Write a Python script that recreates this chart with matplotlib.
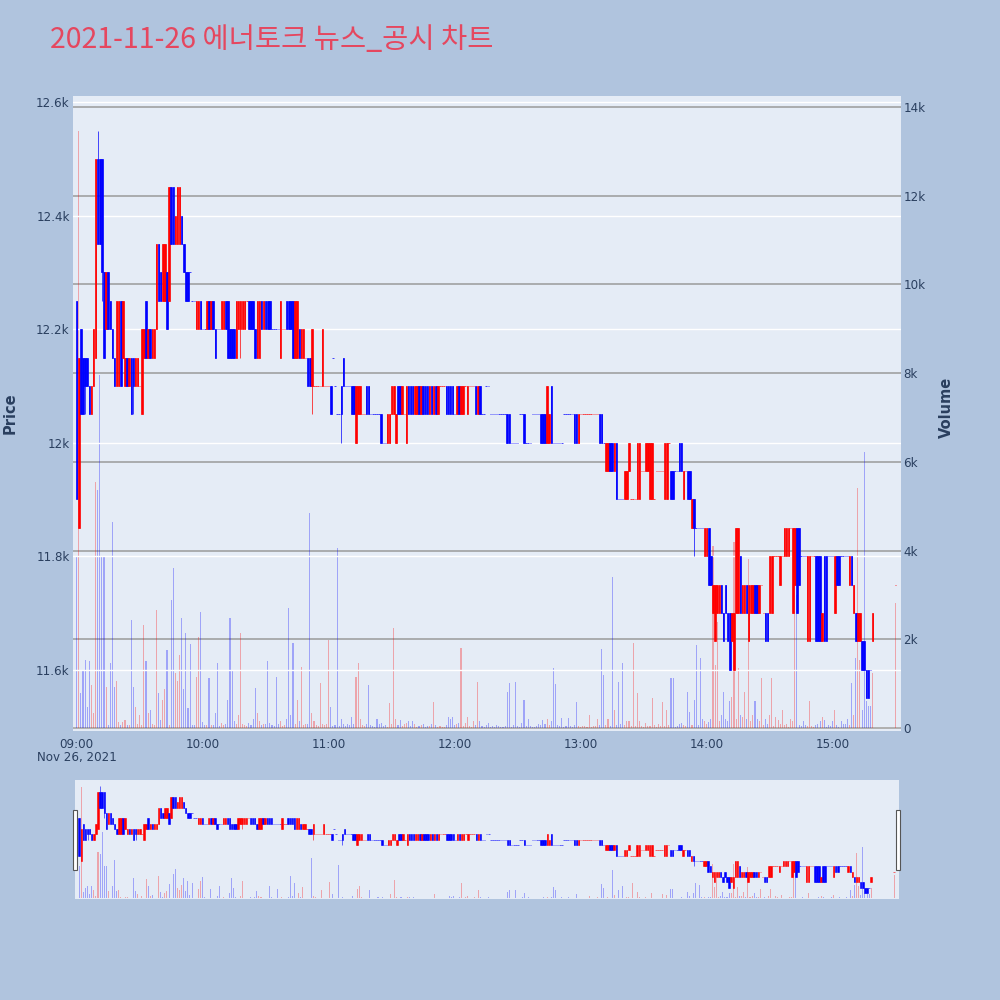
import pandas as pd
import matplotlib
matplotlib.use('Agg')
import matplotlib.pyplot as plt
import matplotlib.dates as mdates
from matplotlib.ticker import FuncFormatter
from matplotlib.patches import Rectangle

TITLE = '2021-11-26 에너토크 뉴스_공시 차트'
trade_date = '2021-11-26'
session_start = '09:00'
closing_time = '15:30'

# one candle per minute from 09:00 to 15:19, then the 15:30 closing auction (last entry)
opens = [
    12250, 11850, 12200, 12150, 12150, 12150, 12100, 12050, 12100, 12150,
    12500, 12500, 12500, 12300, 12200, 12300, 12250, 12200, 12150, 12100,
    12100, 12250, 12150, 12100, 12150, 12100, 12150, 12150, 12100, 12100,
    12100, 12050, 12150, 12250, 12150, 12200, 12150, 12150, 12200, 12350,
    12300, 12250, 12250, 12300, 12250, 12450, 12450, 12350, 12350, 12350,
    12400, 12350, 12300, 12300, 12300, 12250, 12250, 12200, 12200, 12250,
    12200, 12200, 12200, 12250, 12200, 12250, 12200, 12200, 12200, 12200,
    12200, 12250, 12250, 12200, 12200, 12200, 12150, 12200, 12200, 12200,
    12200, 12250, 12250, 12250, 12250, 12200, 12150, 12150, 12250, 12200,
    12250, 12250, 12250, 12200, 12200, 12200, 12200, 12150, 12200, 12200,
    12250, 12250, 12250, 12250, 12150, 12150, 12200, 12150, 12150, 12150,
    12150, 12150, 12100, 12100, 12100, 12100, 12100, 12100, 12100, 12100,
    12100, 12100, 12150, 12100, 12050, 12050, 12100, 12150, 12100, 12100,
    12100, 12100, 12100, 12000, 12050, 12050, 12050, 12050, 12100, 12100,
    12050, 12050, 12050, 12050, 12050, 12050, 12000, 12000, 12000, 12000,
    12050, 12050, 12000, 12100, 12100, 12050, 12050, 12000, 12100, 12100,
    12100, 12050, 12050, 12100, 12050, 12100, 12100, 12100, 12050, 12100,
    12050, 12100, 12050, 12100, 12100, 12100, 12100, 12100, 12100, 12100,
    12050, 12050, 12100, 12050, 12050, 12100, 12050, 12100, 12100, 12100,
    12100, 12050, 12100, 12050, 12050, 12100, 12100, 12050, 12050, 12050,
    12050, 12050, 12050, 12050, 12050, 12050, 12050, 12000, 12000, 12000,
    12000, 12050, 12050, 12050, 12000, 12000, 12000, 12050, 12050, 12050,
    12050, 12050, 12050, 12050, 12000, 12000, 12100, 12000, 12000, 12000,
    12000, 12000, 12050, 12050, 12050, 12050, 12050, 12050, 12050, 12000,
    12050, 12050, 12050, 12050, 12050, 12050, 12050, 12050, 12050, 12050,
    12050, 12000, 11950, 11950, 12000, 12000, 11950, 12000, 11900, 11900,
    11900, 11900, 11900, 11950, 11900, 11900, 11900, 11900, 11900, 11950,
    11950, 11950, 11950, 11900, 11900, 11900, 11950, 11950, 11950, 11950,
    11900, 11900, 12000, 11950, 11950, 11950, 11950, 12000, 12000, 11900,
    11950, 11950, 11950, 11850, 11900, 11850, 11850, 11850, 11850, 11800,
    11800, 11850, 11800, 11700, 11650, 11700, 11700, 11750, 11700, 11750,
    11700, 11700, 11650, 11600, 11700, 11700, 11800, 11700, 11700, 11750,
    11650, 11700, 11700, 11750, 11750, 11700, 11750, 11700, 11700, 11700,
    11700, 11700, 11800, 11800, 11800, 11750, 11800, 11800, 11800, 11800,
    11850, 11700, 11750, 11850, 11850, 11800, 11800, 11800, 11650, 11650,
    11800, 11800, 11800, 11800, 11800, 11650, 11800, 11800, 11800, 11800,
    11800, 11700, 11800, 11800, 11800, 11800, 11800, 11800, 11750, 11800,
    11700, 11700, 11650, 11650, 11650, 11650, 11600, 11600, 11600, 11650,
    11750,
]
closes = [
    11900, 12150, 12050, 12050, 12100, 12100, 12050, 12100, 12200, 12500,
    12350, 12350, 12300, 12150, 12300, 12200, 12200, 12150, 12100, 12250,
    12250, 12100, 12250, 12150, 12100, 12150, 12050, 12100, 12150, 12150,
    12100, 12200, 12200, 12150, 12200, 12150, 12200, 12200, 12350, 12250,
    12250, 12350, 12350, 12200, 12450, 12350, 12350, 12400, 12450, 12450,
    12350, 12300, 12250, 12250, 12300, 12250, 12250, 12250, 12250, 12200,
    12200, 12200, 12250, 12200, 12250, 12200, 12150, 12200, 12200, 12250,
    12250, 12200, 12150, 12150, 12150, 12150, 12250, 12250, 12250, 12250,
    12250, 12250, 12200, 12200, 12200, 12150, 12250, 12250, 12200, 12250,
    12200, 12200, 12200, 12200, 12200, 12200, 12200, 12250, 12200, 12200,
    12200, 12200, 12200, 12150, 12250, 12250, 12150, 12200, 12200, 12150,
    12100, 12100, 12200, 12100, 12100, 12100, 12100, 12200, 12100, 12100,
    12100, 12050, 12150, 12100, 12050, 12050, 12050, 12100, 12100, 12100,
    12100, 12050, 12050, 12100, 12100, 12100, 12050, 12050, 12050, 12050,
    12050, 12050, 12050, 12050, 12050, 12000, 12000, 12000, 12050, 12050,
    12100, 12100, 12050, 12050, 12050, 12100, 12050, 12100, 12050, 12050,
    12050, 12100, 12100, 12050, 12100, 12050, 12050, 12050, 12100, 12050,
    12100, 12050, 12100, 12100, 12100, 12100, 12050, 12050, 12050, 12050,
    12050, 12100, 12050, 12100, 12100, 12100, 12100, 12100, 12100, 12100,
    12050, 12100, 12050, 12050, 12050, 12100, 12100, 12050, 12050, 12050,
    12050, 12050, 12050, 12050, 12050, 12000, 12000, 12000, 12000, 12000,
    12000, 12050, 12050, 12000, 12000, 12000, 12000, 12050, 12050, 12050,
    12050, 12000, 12000, 12000, 12100, 12050, 12000, 12000, 12000, 12000,
    12000, 12000, 12050, 12050, 12050, 12050, 12050, 12000, 12000, 12050,
    12050, 12050, 12050, 12050, 12050, 12050, 12050, 12050, 12050, 12000,
    12000, 12000, 12000, 12000, 11950, 11950, 12000, 11900, 11900, 11900,
    11900, 11950, 11950, 12000, 11900, 11900, 11900, 12000, 12000, 11950,
    11950, 12000, 12000, 12000, 12000, 11900, 11950, 11950, 11950, 11950,
    12000, 12000, 12000, 11900, 11900, 11950, 11950, 11950, 11950, 11950,
    11950, 11900, 11900, 11900, 11850, 11850, 11850, 11850, 11850, 11850,
    11850, 11750, 11750, 11750, 11750, 11750, 11750, 11700, 11650, 11700,
    11650, 11600, 11700, 11700, 11850, 11850, 11700, 11750, 11750, 11700,
    11750, 11750, 11750, 11700, 11700, 11750, 11750, 11700, 11650, 11650,
    11800, 11800, 11800, 11800, 11800, 11800, 11800, 11850, 11850, 11850,
    11850, 11850, 11850, 11700, 11750, 11800, 11800, 11800, 11800, 11800,
    11800, 11800, 11650, 11650, 11650, 11700, 11650, 11650, 11800, 11800,
    11800, 11800, 11750, 11750, 11800, 11800, 11800, 11800, 11800, 11750,
    11750, 11650, 11700, 11700, 11600, 11600, 11550, 11550, 11600, 11700,
    11750,
]
# wicks beyond the body: minute index -> price
highs_extra = {10: 12550}
lows_extra = {4: 12050, 12: 12250, 27: 12050, 78: 12150, 112: 12050, 126: 12000, 294: 11800}

volumes = [
    3860, 13460, 780, 1310, 1530, 480, 1500, 970, 330, 5550,
    5370, 7960, 3860, 3860, 930, 70, 1460, 4650, 930, 1050,
    140, 70, 140, 180, 70, 70, 2430, 930, 480, 100,
    290, 70, 2320, 1500, 330, 400, 100, 70, 2660, 780,
    180, 630, 890, 1760, 70, 2890, 3600, 1230, 1050, 1650,
    2470, 890, 2140, 440, 1900, 70, 70, 1160, 2060, 2620,
    140, 70, 70, 1120, 70, 70, 330, 1460, 40, 120,
    60, 90, 630, 2470, 1280, 150, 80, 300, 2140, 90,
    60, 40, 120, 70, 200, 900, 330, 150, 60, 90,
    100, 1500, 120, 60, 40, 1160, 80, 160, 40, 60,
    200, 2700, 290, 1915, 100, 630, 150, 1380, 60, 90,
    80, 4850, 340, 150, 60, 40, 1010, 100, 60, 80,
    1985, 480, 50, 60, 4060, 50, 200, 100, 40, 90,
    60, 240, 80, 1150, 1465, 200, 60, 50, 80, 970,
    70, 50, 30, 200, 80, 120, 40, 60, 30, 560,
    90, 2255, 200, 70, 180, 40, 90, 120, 160, 50,
    150, 80, 30, 40, 60, 90, 30, 50, 40, 80,
    590, 60, 30, 40, 20, 30, 60, 240, 200, 240,
    60, 90, 120, 1800, 40, 120, 240, 50, 30, 150,
    60, 1040, 150, 40, 30, 60, 120, 30, 50, 20,
    60, 40, 30, 20, 50, 800, 1010, 30, 60, 1040,
    40, 30, 120, 620, 40, 200, 50, 30, 20, 40,
    90, 60, 180, 100, 200, 60, 150, 1350, 1000, 60,
    40, 225, 30, 50, 225, 40, 30, 60, 590, 40,
    30, 50, 40, 30, 300, 20, 40, 50, 200, 60,
    1780, 1200, 60, 200, 40, 3400, 400, 60, 1040, 100,
    1470, 60, 150, 150, 40, 1915, 50, 790, 150, 40,
    30, 120, 50, 40, 680, 60, 30, 100, 50, 590,
    40, 400, 60, 1130, 1130, 30, 40, 90, 120, 60,
    50, 810, 350, 60, 630, 1870, 60, 1580, 200, 150,
    100, 130, 200, 4100, 1420, 2400, 150, 300, 800, 200,
    150, 600, 700, 4200, 200, 1350, 300, 250, 800, 200,
    3800, 150, 300, 600, 200, 150, 1130, 60, 200, 100,
    300, 1130, 50, 250, 180, 100, 400, 60, 80, 30,
    200, 150, 4000, 3000, 60, 40, 150, 60, 50, 600,
    40, 30, 60, 90, 150, 250, 180, 30, 60, 40,
    150, 400, 60, 30, 150, 80, 100, 200, 60, 1010,
    300, 1580, 5420, 1530, 400, 6230, 600, 500, 500, 1240,
    2820,
]

price_ticks = [11600, 11800, 12000, 12200, 12400, 12600]
volume_ticks = [0, 2000, 4000, 6000, 8000, 10000, 12000, 14000]

UP, DOWN = '#FF0000', '#0000FF'
BG, PLOT_BG, TEXT = '#B0C4DE', '#E5ECF6', '#2a3f5f'

times = pd.date_range(f'{trade_date} {session_start}', periods=len(opens) - 1, freq='min')
times = times.append(pd.DatetimeIndex([f'{trade_date} {closing_time}']))
x = mdates.date2num(times.to_pydatetime())
minute = 1 / 1440

highs = [max(o, c) for o, c in zip(opens, closes)]
lows = [min(o, c) for o, c in zip(opens, closes)]
for i, h in highs_extra.items():
    highs[i] = h
for i, l in lows_extra.items():
    lows[i] = l

# flat candles keep the colour of the previous one
colors = []
prev = DOWN
for o, c in zip(opens, closes):
    col = UP if c > o else DOWN if c < o else prev
    colors.append(col)
    prev = col


def k_fmt(v, _):
    return '0' if v == 0 else f'{v / 1000:g}k'


def draw(ax, ax_vol, lw):
    ax_vol.bar(x, volumes, width=0.5 * minute, color=colors, alpha=0.3, linewidth=0)
    ax.vlines(x, lows, highs, colors=colors, linewidth=lw)
    bottoms = [min(o, c) for o, c in zip(opens, closes)]
    heights = [abs(c - o) for o, c in zip(opens, closes)]
    ax.bar(x, heights, bottom=bottoms, width=0.7 * minute, color=colors,
           edgecolor=colors, linewidth=lw)
    for a in (ax, ax_vol):
        a.set_xlim(x[0] - 2 * minute, x[-1] + 2.3 * minute)
        for s in a.spines.values():
            s.set_visible(False)
    ax.set_ylim(11492, 12611)
    ax_vol.set_ylim(-68, 14248)
    ax.set_zorder(ax_vol.get_zorder() + 1)
    ax.patch.set_visible(False)
    ax_vol.patch.set_visible(True)
    ax_vol.set_facecolor(PLOT_BG)


fig = plt.figure(figsize=(10, 10), dpi=100, facecolor=BG)

ax = fig.add_axes([0.0725, 0.269, 0.828, 0.635])
ax_vol = ax.twinx()
draw(ax, ax_vol, 0.5)

ax.set_yticks(price_ticks)
ax.yaxis.set_major_formatter(FuncFormatter(k_fmt))
ax.grid(axis='y', color='white', linewidth=1.0)
ax.set_axisbelow(True)
ax_vol.set_yticks(volume_ticks)
ax_vol.yaxis.set_major_formatter(FuncFormatter(k_fmt))
ax_vol.grid(axis='y', color='#9a9a9a', linewidth=1.1)
ax_vol.set_axisbelow(True)
ax_vol.axhline(0, color='white', linewidth=1.5, zorder=0.5)

ax.xaxis.set_major_locator(mdates.HourLocator(byhour=range(9, 16)))
ax.xaxis.set_major_formatter(mdates.DateFormatter('%H:%M'))
ax.tick_params(axis='x', length=0, pad=5, labelsize=8.6, labelcolor=TEXT)
ax.tick_params(axis='y', length=0, pad=2, labelsize=8.6, labelcolor=TEXT)
ax_vol.tick_params(axis='y', length=0, pad=2, labelsize=8.6, labelcolor=TEXT)

ax.annotate(times[0].strftime('%b %d, %Y').replace(' 0', ' '), xy=(x[0], 0),
            xycoords=('data', 'axes fraction'), xytext=(0, -27),
            textcoords='offset pixels', ha='center', va='center',
            fontsize=8.6, color=TEXT)

fig.text(0.010, 0.587, 'Price', rotation=90, ha='center', va='center',
         fontsize=10.5, fontweight='bold', color=TEXT)
fig.text(0.946, 0.593, 'Volume', rotation=90, ha='center', va='center',
         fontsize=10.5, fontweight='bold', color=TEXT)

fig.text(0.05, 0.96, TITLE, ha='left', va='center', fontsize=20.5,
         color='#E5475F', family=['Noto Sans CJK KR', 'DejaVu Sans'])

# range slider
sl = fig.add_axes([0.075, 0.101, 0.824, 0.119])
sl_vol = sl.twinx()
draw(sl, sl_vol, 0.4)
for a in (sl, sl_vol):
    a.set_xticks([])
    a.set_yticks([])

for hx in (0.073, 0.896):
    fig.patches.append(Rectangle((hx, 0.130), 0.004, 0.060, transform=fig.transFigure,
                                 facecolor='white', edgecolor='#555555', linewidth=0.8))

fig.savefig('out.png', dpi=100, facecolor=BG)
